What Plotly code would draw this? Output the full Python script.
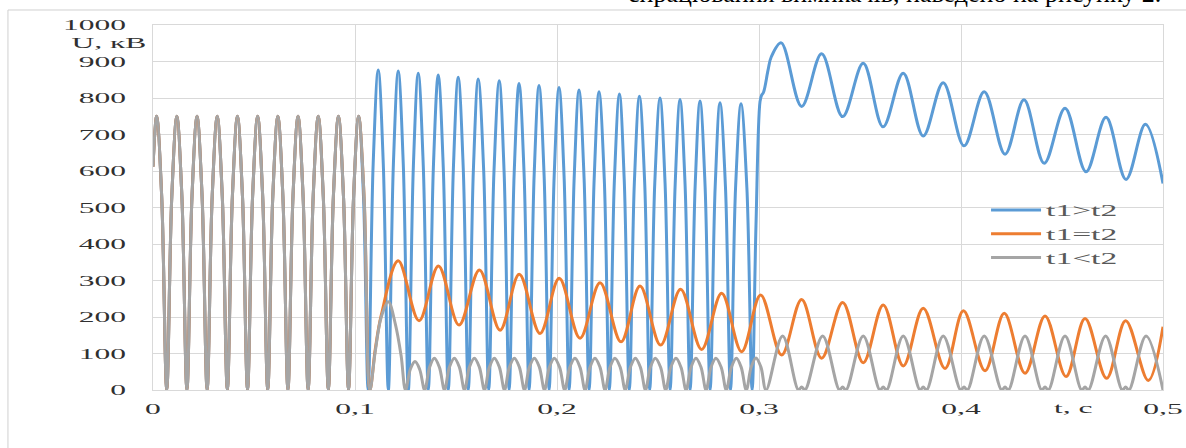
import plotly.graph_objects as go

# Mains-frequency part shared by all three cases (0 ... 0.1 s), U in kV
t_mains = [0.0, 0.0018,
           0.0043, 0.0068, 0.0093, 0.0118,
           0.0143, 0.0168, 0.0193, 0.0218,
           0.0243, 0.0268, 0.0293, 0.0318,
           0.0343, 0.0368, 0.0393, 0.0418,
           0.0443, 0.0468, 0.0493, 0.0518,
           0.0543, 0.0568, 0.0593, 0.0618,
           0.0643, 0.0668, 0.0693, 0.0718,
           0.0743, 0.0768, 0.0793, 0.0818,
           0.0843, 0.0868, 0.0893, 0.0918,
           0.0943, 0.0968, 0.0993, 0.1018]
u_mains = [612, 750,
           530, 0, 530, 750,
           530, 0, 530, 750,
           530, 0, 530, 750,
           530, 0, 530, 750,
           530, 0, 530, 750,
           530, 0, 530, 750,
           530, 0, 530, 750,
           530, 0, 530, 750,
           530, 0, 530, 750,
           530, 0, 530, 750]

# t1 > t2
t_gt = [0.1042, 0.1065, 0.1090, 0.1115,
        0.1140, 0.1165, 0.1190, 0.1214,
        0.1239, 0.1264, 0.1289, 0.1313,
        0.1338, 0.1363, 0.1388, 0.1412,
        0.1437, 0.1462, 0.1487, 0.1511,
        0.1536, 0.1561, 0.1586, 0.1610,
        0.1637, 0.1662, 0.1688, 0.1714,
        0.1738, 0.1763, 0.1788, 0.1812,
        0.1837, 0.1862, 0.1887, 0.1911,
        0.1936, 0.1961, 0.1986, 0.2010,
        0.2035, 0.2060, 0.2085, 0.2109,
        0.2134, 0.2159, 0.2184, 0.2208,
        0.2234, 0.2259, 0.2284, 0.2309,
        0.2333, 0.2358, 0.2383, 0.2408,
        0.2434, 0.2459, 0.2484, 0.2510,
        0.2535, 0.2560, 0.2585, 0.2609,
        0.2634, 0.2659, 0.2684, 0.2708,
        0.2733, 0.2758, 0.2783, 0.2807,
        0.2834, 0.2859, 0.2884, 0.2911,
        0.2940, 0.2966, 0.2985, 0.3005, 0.3013, 0.3022, 0.3045, 0.3061,
        0.3110, 0.3211, 0.3310, 0.3414, 0.3516, 0.3614, 0.3714, 0.3813,
        0.3912, 0.4015, 0.4115, 0.4218, 0.4312, 0.4412, 0.4515, 0.4619,
        0.4718, 0.4817, 0.4913, 0.5]
u_gt = [530, 0, 620, 877,
        620, 0, 618, 874,
        618, 0, 614, 868,
        614, 0, 610, 863,
        610, 0, 606, 857,
        606, 0, 602, 852,
        602, 0, 599, 847,
        599, 0, 594, 840,
        594, 0, 590, 834,
        590, 0, 586, 829,
        586, 0, 581, 822,
        581, 0, 578, 817,
        578, 0, 573, 811,
        573, 0, 569, 805,
        569, 0, 566, 800,
        566, 0, 563, 796,
        563, 0, 560, 792,
        560, 0, 556, 787,
        556, 0, 554, 784,
        554, 0, 450, 790, 808, 815, 877, 913,
        951, 777, 921, 749, 895, 721, 868, 696,
        842, 669, 817, 646, 795, 621, 772, 598,
        747, 577, 728, 566]

# t1 = t2
t_eq = [0.1045, 0.1074, 0.1100, 0.1130,
        0.1214, 0.1317, 0.1413, 0.1515, 0.1616, 0.1718, 0.1813, 0.1916,
        0.2011, 0.2114, 0.2213, 0.2317, 0.2411, 0.2513, 0.2612, 0.2716,
        0.2815, 0.2914, 0.3008, 0.3112, 0.3211, 0.3310, 0.3414, 0.3516,
        0.3615, 0.3714, 0.3813, 0.3921, 0.4012, 0.4119, 0.4214, 0.4317,
        0.4416, 0.4520, 0.4614, 0.4721, 0.4815, 0.4927, 0.5]
u_eq = [530, 0, 110, 205,
        354, 190, 340, 178, 329, 164, 317, 155,
        306, 142, 294, 132, 285, 123, 276, 111,
        265, 105, 260, 96, 248, 87, 240, 75,
        233, 66, 224, 59, 217, 53, 210, 46,
        203, 37, 196, 32, 190, 26, 173]

# t1 < t2
t_lt = [0.1045, 0.1074, 0.1100, 0.1130, 0.1165, 0.1200, 0.1228, 0.1250,
        0.1274, 0.1297, 0.1320, 0.1345,
        0.1369, 0.1393, 0.1418, 0.1443,
        0.1467, 0.1492, 0.1517, 0.1542,
        0.1566, 0.1591, 0.1616, 0.1641,
        0.1665, 0.1690, 0.1715, 0.1740,
        0.1764, 0.1789, 0.1814, 0.1839,
        0.1863, 0.1888, 0.1913, 0.1938,
        0.1962, 0.1987, 0.2013, 0.2038,
        0.2063, 0.2089, 0.2114, 0.2139,
        0.2163, 0.2188, 0.2213, 0.2238,
        0.2262, 0.2287, 0.2313, 0.2338,
        0.2363, 0.2388, 0.2413, 0.2438,
        0.2462, 0.2487, 0.2513, 0.2538,
        0.2563, 0.2589, 0.2614, 0.2639,
        0.2663, 0.2688, 0.2713, 0.2738,
        0.2762, 0.2787, 0.2813, 0.2838,
        0.2863, 0.2888, 0.2912, 0.2937,
        0.2961, 0.2985, 0.3010, 0.3035,
        0.3117, 0.3195, 0.3211, 0.3228,
        0.3315, 0.3398, 0.3414, 0.3431,
        0.3516, 0.3598, 0.3615, 0.3632,
        0.3714, 0.3797, 0.3813, 0.3830,
        0.3912, 0.3998, 0.4015, 0.4032,
        0.4115, 0.4201, 0.4218, 0.4235,
        0.4317, 0.4399, 0.4416, 0.4433,
        0.4515, 0.4597, 0.4614, 0.4631,
        0.4716, 0.4798, 0.4815, 0.4832,
        0.4916, 0.5]
u_lt = [530, 0, 105, 200, 242, 180, 95, 0,
        57, 78, 57, 0,
        62, 87, 62, 0,
        62, 87, 62, 0,
        62, 87, 62, 0,
        62, 87, 62, 0,
        62, 87, 62, 0,
        62, 87, 62, 0,
        62, 87, 62, 0,
        62, 87, 62, 0,
        62, 87, 62, 0,
        62, 87, 62, 0,
        62, 87, 62, 0,
        62, 87, 62, 0,
        62, 87, 62, 0,
        62, 87, 62, 0,
        62, 87, 62, 0,
        62, 87, 62, 0,
        62, 88, 62, 0,
        148, 0, 8, 0,
        148, 0, 8, 0,
        148, 0, 8, 0,
        148, 0, 8, 0,
        148, 0, 8, 0,
        148, 0, 8, 0,
        148, 0, 8, 0,
        148, 0, 8, 0,
        148, 0, 8, 0,
        148, 0]

series_names = ["t1>t2", "t1=t2", "t1<t2"]
series_colors = ["#5B9BD5", "#ED7D31", "#A5A5A5"]

x_tick_vals = [0, 0.1, 0.2, 0.3, 0.4, 0.5]
x_tick_text = ["0", "0,1", "0,2", "0,3", "0,4", "0,5"]
y_tick_vals = list(range(0, 1001, 100))
y_tick_text = [str(v) for v in y_tick_vals]

curves = [(t_mains + t_gt, u_mains + u_gt),
          (t_mains + t_eq, u_mains + u_eq),
          (t_mains + t_lt, u_mains + u_lt)]

fig = go.Figure()
for (tx, uy), name, color in zip(curves, series_names, series_colors):
    fig.add_trace(go.Scatter(
        x=tx, y=uy, mode="lines", name=name,
        line=dict(color=color, width=3, shape="spline", smoothing=1.0),
    ))

tick_font = dict(family="Liberation Serif", size=15, color="#303030")
grid = "#D9D9D9"

fig.update_layout(
    width=1186, height=448,
    margin=dict(l=153, r=23, t=25, b=58),
    paper_bgcolor="white", plot_bgcolor="white",
    showlegend=True,
    legend=dict(
        x=0.8446, y=0.4274, xanchor="left", yanchor="middle",
        bgcolor="rgba(0,0,0,0)", borderwidth=0,
        font=dict(family="Liberation Serif", size=16, color="#595959"),
        itemwidth=30,
    ),
    xaxis=dict(
        range=[0, 0.5], tickvals=x_tick_vals, ticktext=x_tick_text,
        showgrid=True, gridcolor=grid, gridwidth=1,
        zeroline=False, showline=True, linecolor=grid, mirror=True,
        ticks="", ticklabelstandoff=5, tickfont=tick_font,
    ),
    yaxis=dict(
        range=[0, 1000], tickvals=y_tick_vals, ticktext=y_tick_text,
        showgrid=True, gridcolor=grid, gridwidth=1,
        zeroline=False, showline=True, linecolor=grid, mirror=True,
        ticks="", ticklabelstandoff=23, tickfont=tick_font,
    ),
    annotations=[
        dict(text="U, кВ", xref="paper", yref="paper",
             x=-0.0431, y=0.952, xanchor="center", yanchor="middle",
             showarrow=False, font=tick_font),
        dict(text="t, c", xref="paper", yref="paper",
             x=0.911, y=-0.049, xanchor="center", yanchor="middle",
             showarrow=False, font=tick_font),
        dict(text="спрацювання вимикачів, наведено на рисунку 2.",
             xref="paper", yref="paper", x=1.0, y=1.087,
             xanchor="right", yanchor="middle", showarrow=False,
             font=dict(family="Liberation Serif", size=26, color="black")),
    ],
    shapes=[
        dict(type="rect", xref="paper", yref="paper",
             x0=-0.1436, x1=1.05, y0=-0.25, y1=1.0411,
             line=dict(color="#D0D0D0", width=1), layer="below"),
    ],
)

# Wide lettering of the chart labels (horizontal stretch of the glyphs),
# plus longer legend line samples.
post_js = """
var gd = document.getElementById('{plot_id}');
gd.querySelectorAll('.xtick text, .ytick text, .legendtext, .annotation-text').forEach(function (el) {
  if (el.textContent.indexOf('спрацювання') === 0) { return; }
  var w = el.getComputedTextLength();
  el.setAttribute('textLength', (w * 2.1).toFixed(1));
  el.setAttribute('lengthAdjust', 'spacingAndGlyphs');
});
gd.querySelectorAll('.legendlines path').forEach(function (p) {
  p.setAttribute('d', 'M-15,0h50');
});
gd.querySelectorAll('.legend .scrollbox, .legend [clip-path]').forEach(function (e) {
  e.removeAttribute('clip-path');
});
"""

fig.write_html("out.html", post_script=post_js)
